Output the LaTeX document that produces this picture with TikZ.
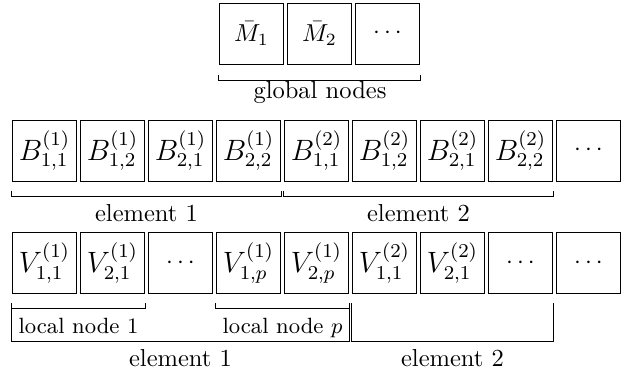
\documentclass[tikz,border=0pt]{standalone}
\usetikzlibrary{calc}
\begin{document}
\begin{tikzpicture}[x=0.408pt,y=-0.408pt,
  cell/.style={draw,line width=0.4pt,minimum width=26.5pt,minimum height=24.9pt,inner sep=0pt},
  bigcell/.style={cell,font=\large},
  brk/.style={line width=0.4pt},
  lab/.style={anchor=base,inner sep=0pt},
  slab/.style={anchor=base,inner sep=0pt,font=\small}]
\useasboundingbox (0,0) rectangle (626,373);
% row 1
\node[cell] (m1) at (251.5,33.5) {$\bar M_1$};
\node[cell] (m2) at (319.5,33.5) {$\bar M_2$};
\node[cell] (m3) at (387.5,33.5) {$\cdots$};
% row 2
\node[bigcell] (b1) at (44.5,150.5) {$B^{(1)}_{1,1}$};
\node[bigcell] (b2) at (112.5,150.5) {$B^{(1)}_{1,2}$};
\node[bigcell] (b3) at (180.5,150.5) {$B^{(1)}_{2,1}$};
\node[bigcell] (b4) at (248.5,150.5) {$B^{(1)}_{2,2}$};
\node[bigcell] (b5) at (316.5,150.5) {$B^{(2)}_{1,1}$};
\node[bigcell] (b6) at (384.5,150.5) {$B^{(2)}_{1,2}$};
\node[bigcell] (b7) at (452.5,150.5) {$B^{(2)}_{2,1}$};
\node[bigcell] (b8) at (520.5,150.5) {$B^{(2)}_{2,2}$};
\node[cell] (b9) at (588.5,150.5) {$\cdots$};
% row 3
\node[bigcell] (v1) at (44.5,263) {$V^{(1)}_{1,1}$};
\node[bigcell] (v2) at (112.5,263) {$V^{(1)}_{2,1}$};
\node[cell] (v3) at (180.5,263) {$\cdots$};
\node[bigcell] (v4) at (248.5,263) {$V^{(1)}_{1,p}$};
\node[bigcell] (v5) at (316.5,263) {$V^{(1)}_{2,p}$};
\node[bigcell] (v6) at (384.5,263) {$V^{(2)}_{1,1}$};
\node[bigcell] (v7) at (452.5,263) {$V^{(2)}_{2,1}$};
\node[cell] (v8) at (520.5,263) {$\cdots$};
\node[cell] (v9) at (588.5,263) {$\cdots$};
% bracket row 1
\draw[brk] ($(m1.south west)+(0,10)$) -- ($(m1.south west)+(0,16)$) -- ($(m3.south east)+(0,16)$) -- ($(m3.south east)+(0,10)$);
\node[lab] (g) at (320,98) {global nodes};
% brackets row 2
\draw[brk] ($(b1.south west)+(0,9)$) -- ($(b1.south west)+(0,15)$) -- ($(b4.south east)+(0,15)$) -- ($(b4.south east)+(0,9)$);
\draw[brk] ($(b5.south west)+(0,9)$) -- ($(b5.south west)+(0,15)$) -- ($(b8.south east)+(0,15)$) -- ($(b8.south east)+(0,9)$);
\node[lab] (e1) at (146.5,221) {element 1};
\node[lab] (e2) at (418.5,221) {element 2};
% brackets row 3
\draw[brk] ($(v1.south west)+(0,9)$) -- ($(v1.south west)+(0,14)$) -- ($(v2.south east)+(0,14)$) -- ($(v2.south east)+(0,9)$);
\draw[brk] ($(v4.south west)+(0,9)$) -- ($(v4.south west)+(0,14)$) -- ($(v5.south east)+(0,14)$) -- ($(v5.south east)+(0,9)$);
\draw[brk] ($(v1.south west)+(0,14)$) -- ($(v1.south west)+(0,47)$) -- ($(v5.south east)+(0,47)$) -- ($(v5.south east)+(0,9)$);
\draw[brk] ($(v6.south west)+(0,9)$) -- ($(v6.south west)+(0,47)$) -- ($(v8.south east)+(0,47)$) -- ($(v8.south east)+(0,9)$);
\node[slab] (l1) at (78.5,333) {local node 1};
\node[slab] (lp) at (282.5,333) {local node $p$};
\node[lab] (e3) at (180.5,366) {element 1};
\node[lab] (e4) at (452.5,366) {element 2};
\end{tikzpicture}
\end{document}
